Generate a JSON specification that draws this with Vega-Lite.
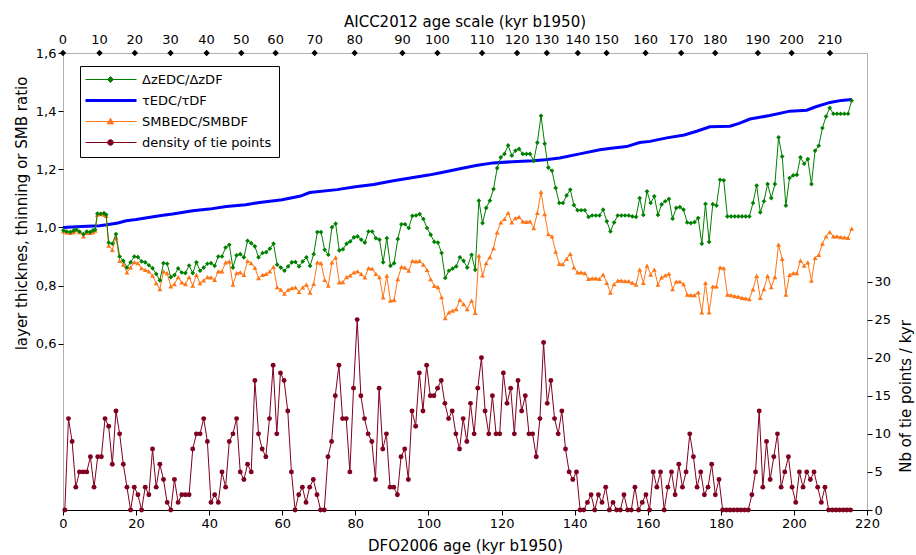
{
  "$schema": "https://vega.github.io/schema/vega-lite/v6.json",
  "width": 804,
  "height": 457,
  "autosize": {"type": "none"},
  "padding": {"left": 63, "top": 53, "right": 49, "bottom": 45},
  "background": "white",
  "title": {"text": "AICC2012 age scale (kyr b1950)", "font": "DejaVu Sans", "fontSize": 15, "fontWeight": "normal", "color": "black", "anchor": "middle", "frame": "group", "offset": 4},
  "config": {
    "view": {"stroke": "#b0b0b0", "strokeWidth": 1},
    "font": "DejaVu Sans",
    "axis": {"labelFont": "DejaVu Sans", "labelFontSize": 13, "labelColor": "black", "titleFont": "DejaVu Sans", "titleFontSize": 15, "titleFontWeight": "normal", "titleColor": "black", "tickColor": "black", "tickSize": 5, "domainColor": "black", "grid": false}
  },
  "datasets": {
    "ratios": [
      {"t":0.1,"dz":0.990,"smb":0.986},{"t":1.0,"dz":0.986,"smb":0.983},{"t":2.0,"dz":0.984,"smb":0.981},{"t":2.9,"dz":0.989,"smb":0.984},{"t":3.6,"dz":0.994,"smb":0.990},{"t":4.5,"dz":0.986,"smb":0.984},{"t":5.6,"dz":0.977,"smb":0.969},{"t":6.5,"dz":0.986,"smb":0.981},{"t":7.4,"dz":0.984,"smb":0.981},{"t":8.2,"dz":0.990,"smb":0.984},{"t":8.8,"dz":0.992,"smb":0.989},{"t":9.4,"dz":1.048,"smb":1.044},{"t":10.3,"dz":1.047,"smb":1.047},{"t":11.2,"dz":1.049,"smb":1.044},{"t":11.8,"dz":1.044,"smb":1.040},
      {"t":12.5,"dz":0.948,"smb":0.937},{"t":13.5,"dz":0.944,"smb":0.923},{"t":14.5,"dz":0.977,"smb":0.966},{"t":15.5,"dz":0.900,"smb":0.885},{"t":16.5,"dz":0.885,"smb":0.872},{"t":17.5,"dz":0.862,"smb":0.845},{"t":18.5,"dz":0.880,"smb":0.863},{"t":19.5,"dz":0.900,"smb":0.881},{"t":20.5,"dz":0.898,"smb":0.877},{"t":21.5,"dz":0.883,"smb":0.860},
      {"t":22.5,"dz":0.880,"smb":0.854},{"t":23.5,"dz":0.870,"smb":0.849},{"t":24.5,"dz":0.860,"smb":0.834},{"t":25.5,"dz":0.840,"smb":0.808},{"t":26.5,"dz":0.818,"smb":0.788},{"t":27.5,"dz":0.877,"smb":0.849},{"t":28.5,"dz":0.875,"smb":0.843},{"t":29.5,"dz":0.829,"smb":0.797},{"t":30.5,"dz":0.836,"smb":0.805},{"t":31.5,"dz":0.859,"smb":0.829},
      {"t":32.5,"dz":0.845,"smb":0.811},{"t":33.5,"dz":0.843,"smb":0.805},{"t":34.5,"dz":0.869,"smb":0.829},{"t":35.5,"dz":0.843,"smb":0.800},{"t":36.5,"dz":0.880,"smb":0.837},{"t":37.5,"dz":0.851,"smb":0.808},{"t":38.5,"dz":0.862,"smb":0.818},{"t":39.5,"dz":0.875,"smb":0.829},{"t":40.5,"dz":0.877,"smb":0.828},{"t":41.5,"dz":0.868,"smb":0.820},
      {"t":42.5,"dz":0.900,"smb":0.849},{"t":43.5,"dz":0.900,"smb":0.849},{"t":44.5,"dz":0.931,"smb":0.880},{"t":45.5,"dz":0.940,"smb":0.883},{"t":46.5,"dz":0.862,"smb":0.803},{"t":47.5,"dz":0.904,"smb":0.843},{"t":48.5,"dz":0.908,"smb":0.845},{"t":49.5,"dz":0.897,"smb":0.837},{"t":50.5,"dz":0.954,"smb":0.885},{"t":51.5,"dz":0.946,"smb":0.877},
      {"t":52.5,"dz":0.935,"smb":0.862},{"t":53.5,"dz":0.897,"smb":0.826},
      {"t":54.6,"dz":0.912,"smb":0.837},{"t":55.6,"dz":0.915,"smb":0.840},{"t":56.6,"dz":0.927,"smb":0.849},{"t":57.6,"dz":0.944,"smb":0.864},{"t":58.6,"dz":0.872,"smb":0.794},{"t":59.6,"dz":0.862,"smb":0.786},{"t":60.6,"dz":0.851,"smb":0.772},{"t":61.6,"dz":0.866,"smb":0.786},{"t":62.6,"dz":0.880,"smb":0.791},{"t":63.6,"dz":0.881,"smb":0.794},
      {"t":64.6,"dz":0.866,"smb":0.778},{"t":65.6,"dz":0.883,"smb":0.794},{"t":66.6,"dz":0.897,"smb":0.803},{"t":67.6,"dz":0.868,"smb":0.776},{"t":68.6,"dz":0.908,"smb":0.806},{"t":69.6,"dz":0.984,"smb":0.880},{"t":70.6,"dz":0.984,"smb":0.877},{"t":71.6,"dz":0.923,"smb":0.820},{"t":72.6,"dz":0.906,"smb":0.800},{"t":73.6,"dz":1.001,"smb":0.880},
      {"t":74.6,"dz":1.013,"smb":0.897},{"t":75.6,"dz":0.921,"smb":0.811},{"t":76.6,"dz":0.925,"smb":0.812},{"t":77.6,"dz":0.944,"smb":0.829},{"t":78.6,"dz":0.952,"smb":0.835},{"t":79.6,"dz":0.966,"smb":0.845},{"t":80.6,"dz":0.969,"smb":0.849},{"t":81.6,"dz":0.958,"smb":0.840},{"t":82.6,"dz":0.948,"smb":0.828},{"t":83.6,"dz":0.986,"smb":0.860},
      {"t":84.6,"dz":0.986,"smb":0.858},{"t":85.6,"dz":0.963,"smb":0.840},{"t":86.6,"dz":0.958,"smb":0.829},{"t":87.6,"dz":0.880,"smb":0.759},{"t":88.6,"dz":0.963,"smb":0.834},{"t":89.6,"dz":0.868,"smb":0.748},{"t":90.6,"dz":0.877,"smb":0.751},{"t":91.6,"dz":0.960,"smb":0.822},{"t":92.6,"dz":1.011,"smb":0.864},{"t":93.6,"dz":1.011,"smb":0.862},
      {"t":94.6,"dz":0.998,"smb":0.851},{"t":95.6,"dz":1.040,"smb":0.885},{"t":96.6,"dz":1.041,"smb":0.883},{"t":97.6,"dz":1.046,"smb":0.885},{"t":98.6,"dz":1.029,"smb":0.872},{"t":99.6,"dz":0.998,"smb":0.854},{"t":100.6,"dz":0.975,"smb":0.822},{"t":101.6,"dz":0.950,"smb":0.799},{"t":102.6,"dz":0.948,"smb":0.795},{"t":103.6,"dz":0.912,"smb":0.760},
      {"t":104.6,"dz":0.826,"smb":0.688},{"t":105.6,"dz":0.851,"smb":0.708},{"t":106.6,"dz":0.858,"smb":0.714},{"t":107.6,"dz":0.866,"smb":0.719},{"t":108.6,"dz":0.897,"smb":0.751},{"t":109.6,"dz":0.885,"smb":0.736},{"t":110.6,"dz":0.862,"smb":0.719},
      {"t":111.8,"dz":0.906,"smb":0.748},{"t":112.8,"dz":0.854,"smb":0.706},{"t":113.8,"dz":1.092,"smb":0.903},{"t":114.8,"dz":1.015,"smb":0.835},{"t":115.8,"dz":1.067,"smb":0.877},{"t":116.8,"dz":1.092,"smb":0.898},{"t":117.8,"dz":1.132,"smb":0.929},{"t":118.8,"dz":1.204,"smb":0.983},{"t":119.8,"dz":1.241,"smb":1.017},{"t":120.8,"dz":1.253,"smb":1.029},
      {"t":121.8,"dz":1.282,"smb":1.050},{"t":122.8,"dz":1.247,"smb":1.017},{"t":123.8,"dz":1.264,"smb":1.032},{"t":124.8,"dz":1.270,"smb":1.036},{"t":125.8,"dz":1.253,"smb":1.021},{"t":126.8,"dz":1.253,"smb":1.019},{"t":127.8,"dz":1.253,"smb":1.021},{"t":128.8,"dz":1.229,"smb":0.998},{"t":129.8,"dz":1.292,"smb":1.050},{"t":130.8,"dz":1.384,"smb":1.122},
      {"t":131.8,"dz":1.288,"smb":1.046},{"t":132.8,"dz":1.206,"smb":0.977},{"t":133.8,"dz":1.195,"smb":0.969},{"t":134.8,"dz":1.136,"smb":0.917},{"t":135.8,"dz":1.084,"smb":0.875},{"t":136.8,"dz":1.084,"smb":0.874},{"t":137.8,"dz":1.110,"smb":0.892},{"t":138.8,"dz":1.130,"smb":0.909},{"t":139.8,"dz":1.077,"smb":0.863},{"t":140.8,"dz":1.059,"smb":0.845},
      {"t":141.8,"dz":1.059,"smb":0.845},{"t":142.8,"dz":1.059,"smb":0.843},{"t":143.8,"dz":1.036,"smb":0.823},{"t":144.8,"dz":1.041,"smb":0.825},{"t":145.8,"dz":1.041,"smb":0.825},{"t":146.8,"dz":1.041,"smb":0.823},{"t":147.8,"dz":1.061,"smb":0.838},{"t":148.8,"dz":1.021,"smb":0.809},{"t":149.8,"dz":0.986,"smb":0.776},{"t":150.8,"dz":1.017,"smb":0.805},
      {"t":151.8,"dz":1.041,"smb":0.817},{"t":152.8,"dz":1.041,"smb":0.817},{"t":153.8,"dz":1.041,"smb":0.815},{"t":154.8,"dz":1.041,"smb":0.815},{"t":155.8,"dz":1.038,"smb":0.809},{"t":156.8,"dz":1.036,"smb":0.803},{"t":157.8,"dz":1.101,"smb":0.855},{"t":158.8,"dz":1.043,"smb":0.809},{"t":159.8,"dz":1.124,"smb":0.869},{"t":160.8,"dz":1.084,"smb":0.838},
      {"t":161.8,"dz":1.107,"smb":0.855},{"t":162.8,"dz":1.043,"smb":0.803},
      {"t":163.8,"dz":1.079,"smb":0.828},{"t":164.8,"dz":1.090,"smb":0.835},{"t":165.8,"dz":1.098,"smb":0.841},{"t":166.8,"dz":1.030,"smb":0.788},{"t":167.8,"dz":1.067,"smb":0.814},{"t":168.8,"dz":1.070,"smb":0.814},{"t":169.8,"dz":1.061,"smb":0.805},{"t":170.8,"dz":1.017,"smb":0.769},{"t":171.8,"dz":1.015,"smb":0.767},{"t":172.8,"dz":1.018,"smb":0.767},
      {"t":173.8,"dz":1.032,"smb":0.777},{"t":174.8,"dz":0.944,"smb":0.708},{"t":175.8,"dz":1.081,"smb":0.809},{"t":176.8,"dz":0.950,"smb":0.708},{"t":177.8,"dz":1.080,"smb":0.797},{"t":178.8,"dz":1.075,"smb":0.797},{"t":179.8,"dz":1.164,"smb":0.863},{"t":180.8,"dz":1.162,"smb":0.860},{"t":181.8,"dz":1.038,"smb":0.769},{"t":182.8,"dz":1.038,"smb":0.767},
      {"t":183.8,"dz":1.038,"smb":0.764},{"t":184.8,"dz":1.038,"smb":0.762},{"t":185.8,"dz":1.038,"smb":0.758},{"t":186.8,"dz":1.038,"smb":0.756},{"t":187.8,"dz":1.038,"smb":0.753},{"t":188.8,"dz":1.084,"smb":0.787},{"t":189.8,"dz":1.144,"smb":0.833},{"t":190.8,"dz":1.052,"smb":0.758},{"t":191.8,"dz":1.090,"smb":0.788},{"t":192.8,"dz":1.149,"smb":0.833},
      {"t":193.8,"dz":1.101,"smb":0.795},{"t":194.8,"dz":1.149,"smb":0.829},{"t":195.8,"dz":1.310,"smb":0.941},{"t":196.8,"dz":1.244,"smb":0.892},{"t":197.8,"dz":1.075,"smb":0.769},{"t":198.8,"dz":1.170,"smb":0.837},{"t":199.8,"dz":1.179,"smb":0.843},{"t":200.8,"dz":1.181,"smb":0.843},{"t":201.8,"dz":1.241,"smb":0.886},{"t":202.8,"dz":1.219,"smb":0.869},
      {"t":203.8,"dz":1.235,"smb":0.880},{"t":204.8,"dz":1.149,"smb":0.817},{"t":205.8,"dz":1.264,"smb":0.895},{"t":206.8,"dz":1.281,"smb":0.906},{"t":207.8,"dz":1.342,"smb":0.944},{"t":208.8,"dz":1.382,"smb":0.969},{"t":209.8,"dz":1.411,"smb":0.984},{"t":210.8,"dz":1.391,"smb":0.969},{"t":211.8,"dz":1.391,"smb":0.969},{"t":212.8,"dz":1.391,"smb":0.967},
      {"t":213.8,"dz":1.391,"smb":0.966},{"t":214.8,"dz":1.391,"smb":0.964},{"t":215.8,"dz":1.436,"smb":0.996}
    ],
    "tau": [
      {"t":0,"tau":1.000},{"t":5,"tau":1.003},{"t":10,"tau":1.006},{"t":12,"tau":1.009},{"t":15,"tau":1.015},{"t":17.3,"tau":1.023},{"t":20,"tau":1.027},{"t":26.4,"tau":1.040},{"t":30,"tau":1.046},{"t":35.5,"tau":1.057},{"t":40,"tau":1.063},{"t":44.7,"tau":1.072},{"t":50,"tau":1.078},{"t":53.8,"tau":1.086},{"t":60,"tau":1.095},{"t":65,"tau":1.108},{"t":67.5,"tau":1.120},{"t":75,"tau":1.130},{"t":80,"tau":1.140},{"t":85,"tau":1.148},{"t":90,"tau":1.160},{"t":95,"tau":1.170},{"t":100,"tau":1.180},{"t":104,"tau":1.190},{"t":108.6,"tau":1.202},{"t":113,"tau":1.213},{"t":117.7,"tau":1.222},{"t":123,"tau":1.226},{"t":128.6,"tau":1.229},{"t":132,"tau":1.233},{"t":135.9,"tau":1.239},{"t":141.4,"tau":1.253},{"t":146.9,"tau":1.267},{"t":150,"tau":1.272},{"t":154.2,"tau":1.278},{"t":157.8,"tau":1.292},{"t":160.6,"tau":1.296},{"t":165.2,"tau":1.308},{"t":170,"tau":1.318},{"t":173.4,"tau":1.331},{"t":177,"tau":1.346},{"t":182.5,"tau":1.348},{"t":185,"tau":1.358},{"t":188,"tau":1.373},{"t":193.4,"tau":1.385},{"t":198.9,"tau":1.400},{"t":203.5,"tau":1.403},{"t":206,"tau":1.415},{"t":209.9,"tau":1.430},{"t":213,"tau":1.437},{"t":215.9,"tau":1.440}
    ],
    "ties": [
      {"t":0.5,"n":0},{"t":1.5,"n":12},{"t":2.5,"n":9},{"t":3.5,"n":3},{"t":4.5,"n":5},{"t":5.5,"n":5},{"t":6.5,"n":5},{"t":7.5,"n":7},{"t":8.5,"n":3},{"t":9.5,"n":7},
      {"t":10.5,"n":7},{"t":11.5,"n":12},{"t":12.5,"n":11},{"t":13.5,"n":6},{"t":14.5,"n":13},{"t":15.5,"n":10},{"t":16.5,"n":6},{"t":17.5,"n":3},{"t":18.5,"n":0},{"t":19.5,"n":3},
      {"t":20.5,"n":2},{"t":21.5,"n":0},{"t":22.5,"n":3},{"t":23.5,"n":2},{"t":24.5,"n":8},{"t":25.5,"n":3},{"t":26.5,"n":6},{"t":27.5,"n":4},{"t":28.5,"n":1},{"t":29.5,"n":0},
      {"t":30.5,"n":4},{"t":31.5,"n":1},{"t":32.5,"n":2},{"t":33.5,"n":2},{"t":34.5,"n":2},{"t":35.5,"n":8},{"t":36.5,"n":10},{"t":37.5,"n":10},{"t":38.5,"n":12},{"t":39.5,"n":9},
      {"t":40.5,"n":1},{"t":41.5,"n":2},{"t":42.5,"n":1},{"t":43.5,"n":5},{"t":44.5,"n":3},{"t":45.5,"n":9},{"t":46.5,"n":10},{"t":47.5,"n":12},{"t":48.5,"n":5},{"t":49.5,"n":4},
      {"t":50.5,"n":6},{"t":51.5,"n":5},{"t":52.5,"n":17},{"t":53.5,"n":10},{"t":54.5,"n":8},{"t":55.5,"n":7},{"t":56.5,"n":12},{"t":57.5,"n":19},{"t":58.5,"n":10},{"t":59.5,"n":18},
      {"t":60.5,"n":17},{"t":61.5,"n":13},{"t":62.5,"n":5},{"t":63.5,"n":0},{"t":64.5,"n":2},{"t":65.5,"n":3},{"t":66.5,"n":1},{"t":67.5,"n":3},{"t":68.5,"n":4},{"t":69.5,"n":2},
      {"t":70.5,"n":0},{"t":71.5,"n":0},{"t":72.5,"n":7},{"t":73.5,"n":9},{"t":74.5,"n":15},{"t":75.5,"n":19},{"t":76.5,"n":12},{"t":77.5,"n":12},{"t":78.5,"n":5},{"t":79.5,"n":16},
      {"t":80.5,"n":25},{"t":81.5,"n":15},{"t":82.5,"n":12},{"t":83.5,"n":10},{"t":84.5,"n":9},{"t":85.5,"n":4},{"t":86.5,"n":16},{"t":87.5,"n":8},{"t":88.5,"n":10},{"t":89.5,"n":3},
      {"t":90.5,"n":3},{"t":91.5,"n":2},{"t":92.5,"n":7},{"t":93.5,"n":8},{"t":94.5,"n":4},{"t":95.5,"n":13},{"t":96.5,"n":11},{"t":97.5,"n":18},{"t":98.5,"n":13},{"t":99.5,"n":19},
      {"t":100.5,"n":15},{"t":101.5,"n":15},{"t":102.5,"n":16},{"t":103.5,"n":17},{"t":104.5,"n":14},{"t":105.5,"n":12},{"t":106.5,"n":13},{"t":107.5,"n":10},{"t":108.5,"n":8},{"t":109.5,"n":12},
      {"t":110.5,"n":9},{"t":111.5,"n":14},{"t":112.5,"n":10},{"t":113.5,"n":16},{"t":114.5,"n":20},{"t":115.5,"n":13},{"t":116.5,"n":10},{"t":117.5,"n":15},{"t":118.5,"n":10},{"t":119.5,"n":10},
      {"t":120.5,"n":18},{"t":121.5,"n":14},{"t":122.5,"n":16},{"t":123.5,"n":10},{"t":124.5,"n":17},{"t":125.5,"n":13},{"t":126.5,"n":15},{"t":127.5,"n":10},{"t":128.5,"n":10},{"t":129.5,"n":7},
      {"t":130.5,"n":12},{"t":131.5,"n":22},{"t":132.5,"n":14},{"t":133.5,"n":17},{"t":134.5,"n":12},{"t":135.5,"n":10},{"t":136.5,"n":13},{"t":137.5,"n":8},{"t":138.5,"n":5},{"t":139.5,"n":4},
      {"t":140.5,"n":5},{"t":141.5,"n":0},{"t":142.5,"n":0},{"t":143.5,"n":1},{"t":144.5,"n":2},{"t":145.5,"n":0},{"t":146.5,"n":2},{"t":147.5,"n":1},{"t":148.5,"n":3},{"t":149.5,"n":0},
      {"t":150.5,"n":1},{"t":151.5,"n":0},{"t":152.5,"n":0},{"t":153.5,"n":2},{"t":154.5,"n":0},{"t":155.5,"n":0},{"t":156.5,"n":3},{"t":157.5,"n":0},{"t":158.5,"n":1},{"t":159.5,"n":2},
      {"t":160.5,"n":0},{"t":161.5,"n":5},{"t":162.5,"n":3},{"t":163.5,"n":5},{"t":164.5,"n":0},{"t":165.5,"n":3},{"t":166.5,"n":5},{"t":167.5,"n":2},{"t":168.5,"n":6},{"t":169.5,"n":3},
      {"t":170.5,"n":5},{"t":171.5,"n":10},{"t":172.5,"n":7},{"t":173.5,"n":3},{"t":174.5,"n":5},{"t":175.5,"n":2},{"t":176.5,"n":3},{"t":177.5,"n":6},{"t":178.5,"n":2},{"t":179.5,"n":4},
      {"t":180.5,"n":0},{"t":181.5,"n":0},{"t":182.5,"n":0},{"t":183.5,"n":0},{"t":184.5,"n":0},{"t":185.5,"n":0},{"t":186.5,"n":0},{"t":187.5,"n":0},{"t":188.5,"n":2},{"t":189.5,"n":5},
      {"t":190.5,"n":13},{"t":191.5,"n":3},{"t":192.5,"n":9},{"t":193.5,"n":4},{"t":194.5,"n":7},{"t":195.5,"n":10},{"t":196.5,"n":3},{"t":197.5,"n":5},{"t":198.5,"n":7},{"t":199.5,"n":3},
      {"t":200.5,"n":1},{"t":201.5,"n":5},{"t":202.5,"n":3},{"t":203.5,"n":5},{"t":204.5,"n":4},{"t":205.5,"n":5},{"t":206.5,"n":3},{"t":207.5,"n":1},{"t":208.5,"n":3},{"t":209.5,"n":0},
      {"t":210.5,"n":0},{"t":211.5,"n":0},{"t":212.5,"n":0},{"t":213.5,"n":0},{"t":214.5,"n":0},{"t":215.5,"n":0}
    ],
    "aicc": [
      {"t":0,"a":"0"},{"t":9.99,"a":"10"},{"t":19.66,"a":"20"},{"t":29.43,"a":"30"},{"t":39.29,"a":"40"},{"t":48.79,"a":"50"},{"t":58.18,"a":"60"},{"t":68.86,"a":"70"},{"t":79.81,"a":"80"},{"t":92.87,"a":"90"},{"t":102.46,"a":"100"},{"t":114.67,"a":"110"},{"t":124.25,"a":"120"},{"t":132.38,"a":"130"},{"t":140.87,"a":"140"},{"t":148.73,"a":"150"},{"t":159.41,"a":"160"},{"t":169.15,"a":"170"},{"t":178.46,"a":"180"},{"t":190.15,"a":"190"},{"t":199.38,"a":"200"},{"t":209.87,"a":"210"}
    ]
  },
  "layer": [
    {
      "layer": [
        {
          "data": {"name": "tau"},
          "mark": {"type": "line", "strokeWidth": 3},
          "encoding": {
            "x": {"field": "t", "type": "quantitative", "scale": {"domain": [0, 220], "nice": false, "zero": false},
              "axis": {"values": [0,10,20,30,40,50,60,70,80,90,100,110,120,130,140,150,160,170,180,190,200,210,220], "title": "DFO2006 age (kyr b1950)", "labelFlush": false, "labelOverlap": false, "titlePadding": 8}},
            "y": {"field": "tau", "type": "quantitative", "scale": {"domain": [0.028, 1.6], "nice": false, "zero": false},
              "axis": {"values": [0.6,0.8,1.0,1.2,1.4,1.6], "labelExpr": "replace(format(datum.value, '.1f'), '.', ',')", "domain": false, "title": "layer thicknes, thinning or SMB ratio", "titleX": -37, "titleY": 160, "titleAngle": 270, "titleBaseline": "alphabetic", "titleAlign": "center"}},
            "color": {"datum": "τEDC/τDF", "type": "nominal",
              "scale": {"domain": ["ΔzEDC/ΔzDF", "τEDC/τDF", "SMBEDC/SMBDF", "density of tie points"], "range": ["#008000", "#0000ff", "#ff7414", "#80001f"]},
              "legend": {"title": null, "orient": "none", "legendX": 17, "legendY": 13, "strokeColor": "black", "fillColor": "white", "padding": 7, "cornerRadius": 0,
                "labelFont": "DejaVu Sans", "labelFontSize": 13, "labelColor": "black", "labelOffset": 42, "symbolSize": 400, "rowPadding": 7, "symbolOpacity": 1,
                "symbolType": {"expr": "datum.value === 'τEDC/τDF' ? 'M-0.8,0H4.3' : datum.value === 'SMBEDC/SMBDF' ? 'M-0.8,0H4.3M1.7,-0.32L2.02,0.24L1.38,0.24Z' : datum.value === 'density of tie points' ? 'M-0.8,0H4.3M1.98,0A0.28,0.28 0 1,1 1.42,0A0.28,0.28 0 1,1 1.98,0Z' : 'M-0.8,0H4.3M1.7,-0.3L2.0,0L1.7,0.3L1.4,0Z'"},
                "symbolStrokeWidth": {"expr": "datum.value === 'τEDC/τDF' ? 3 : 1"},
                "symbolFillColor": {"expr": "scale('color', datum.value)"}
              }}
          }
        },
        {
          "data": {"name": "ratios"},
          "mark": {"type": "line", "strokeWidth": 1, "point": {"filled": true, "shape": "triangle-up", "size": 24}},
          "encoding": {
            "x": {"field": "t", "type": "quantitative"},
            "y": {"field": "smb", "type": "quantitative"},
            "color": {"datum": "SMBEDC/SMBDF", "type": "nominal", "legend": null}
          }
        },
        {
          "data": {"name": "ratios"},
          "mark": {"type": "line", "strokeWidth": 1, "point": {"filled": true, "shape": "diamond", "size": 22}},
          "encoding": {
            "x": {"field": "t", "type": "quantitative"},
            "y": {"field": "dz", "type": "quantitative"},
            "color": {"datum": "ΔzEDC/ΔzDF", "type": "nominal", "legend": null}
          }
        },
        {
          "mark": {"type": "rule", "color": "black", "strokeWidth": 1},
          "encoding": {
            "x": {"datum": 0, "type": "quantitative"},
            "y": {"datum": 0.5, "type": "quantitative"},
            "y2": {"datum": 1.6}
          }
        },
        {
          "data": {"name": "aicc"},
          "mark": {"type": "point", "shape": "diamond", "filled": true, "color": "black", "size": 40, "opacity": 1},
          "encoding": {
            "x": {"field": "t", "type": "quantitative"},
            "y": {"datum": 1.6, "type": "quantitative"}
          }
        },
        {
          "data": {"name": "aicc"},
          "mark": {"type": "text", "font": "DejaVu Sans", "fontSize": 13, "color": "black", "baseline": "alphabetic", "align": "center", "dy": -9},
          "encoding": {
            "x": {"field": "t", "type": "quantitative"},
            "y": {"datum": 1.6, "type": "quantitative"},
            "text": {"field": "a"}
          }
        }
      ]
    },
    {
      "layer": [
        {
          "data": {"name": "ties"},
          "mark": {"type": "line", "strokeWidth": 1, "point": {"filled": true, "shape": "circle", "size": 24}},
          "encoding": {
            "x": {"field": "t", "type": "quantitative"},
            "y": {"field": "n", "type": "quantitative", "scale": {"domain": [0, 60], "nice": false, "zero": false},
              "axis": {"orient": "right", "values": [0,5,10,15,20,25,30], "domain": false, "title": "Nb of tie points / kyr", "titleX": 43, "titleY": 343, "titleAngle": 270, "titleBaseline": "alphabetic", "titleAlign": "center"}},
            "color": {"datum": "density of tie points", "type": "nominal", "legend": null}
          }
        },
        {
          "mark": {"type": "rule", "color": "black", "strokeWidth": 1},
          "encoding": {
            "x": {"datum": 220, "type": "quantitative"},
            "y": {"datum": 0, "type": "quantitative"},
            "y2": {"datum": 30}
          }
        }
      ]
    }
  ],
  "resolve": {"scale": {"y": "independent"}}
}
